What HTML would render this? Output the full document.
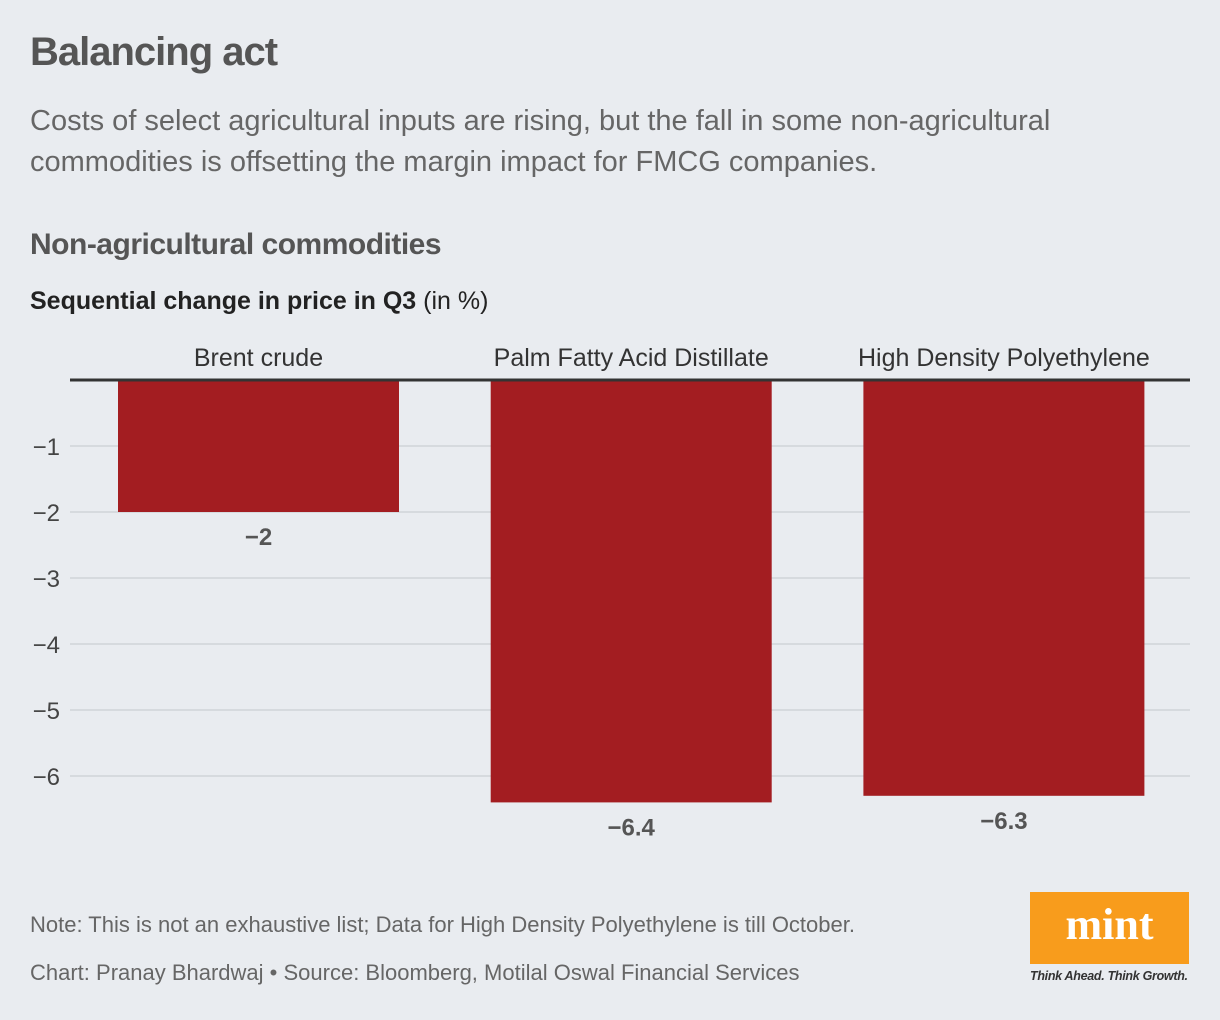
<!DOCTYPE html>
<html><head><meta charset="utf-8"><style>
body{margin:0;width:1220px;height:1020px;background:#e9ecf0;font-family:"Liberation Sans",sans-serif;position:relative;overflow:hidden}
.t{position:absolute;white-space:nowrap}
</style></head><body>
<div class="t" style="left:30px;top:30px;font-size:40px;font-weight:bold;color:#555;letter-spacing:-1px">Balancing act</div>
<div class="t" style="left:30px;top:101px;font-size:29px;color:#666;line-height:41px;white-space:normal;width:1150px">Costs of select agricultural inputs are rising, but the fall in some non-agricultural commodities is offsetting the margin impact for FMCG companies.</div>
<div class="t" style="left:30px;top:228px;font-size:30px;font-weight:bold;color:#555;letter-spacing:-0.5px">Non-agricultural commodities</div>
<div class="t" style="left:30px;top:287px;font-size:25px;color:#222"><b>Sequential change in price in Q3</b> (in %)</div>
<svg id="chart" width="1220" height="880" style="position:absolute;left:0;top:0"></svg>
<div class="t" style="left:30px;top:912px;font-size:22px;color:#666">Note: This is not an exhaustive list; Data for High Density Polyethylene is till October.</div>
<div class="t" style="left:30px;top:960px;font-size:22px;color:#666">Chart: Pranay Bhardwaj • Source: Bloomberg, Motilal Oswal Financial Services</div>
<div style="position:absolute;left:1030px;top:892px;width:159px;height:72px;background:#f89c1c;color:#fff;font-family:'Liberation Serif',serif;font-weight:bold;font-size:44px;text-align:center;line-height:66px">mint</div>
<div class="t" style="left:1030px;top:969px;font-size:12.5px;font-style:italic;font-weight:bold;color:#333;letter-spacing:-0.3px">Think Ahead. Think Growth.</div>
<script>
const categories=["Brent crude","Palm Fatty Acid Distillate","High Density Polyethylene"];
const values=[-2,-6.4,-6.3];
const valueLabels=["−2","−6.4","−6.3"];
const ticks=[-1,-2,-3,-4,-5,-6];
const tickLabels=["−1","−2","−3","−4","−5","−6"];
const svg=document.getElementById('chart');const NS='http://www.w3.org/2000/svg';
const y=v=>380-66*v;
const bandX=i=>70+i*372.7;
function mk(t,a){const e=document.createElementNS(NS,t);for(const k in a)e.setAttribute(k,a[k]);svg.appendChild(e);return e;}
ticks.forEach((t,i)=>{
 const l=mk('line',{x1:70,x2:1190,y1:y(t),y2:y(t),stroke:'#d0d3d8','stroke-width':1.5});
 
 
 const tx=mk('text',{x:60,y:y(t)+9,'text-anchor':'end','font-size':24,fill:'#444','font-family':'Liberation Sans'});
 tx.textContent=tickLabels[i];
 
 
});
categories.forEach((c,i)=>{
 const x0=bandX(i)+48,w=281;
 const r=mk('rect',{x:x0,y:y(0),width:w,height:y(values[i])-y(0),fill:'#a31d21'});
 
 
 const cl=mk('text',{x:x0+w/2,y:366,'text-anchor':'middle','font-size':25,fill:'#333','font-family':'Liberation Sans'});
 cl.textContent=c;
 
 
 const vl=mk('text',{x:x0+w/2,y:y(values[i])+33,'text-anchor':'middle','font-size':24,'font-weight':'bold',fill:'#555','font-family':'Liberation Sans'});
 vl.textContent=valueLabels[i];
 
 
});
const z=mk('line',{x1:70,x2:1190,y1:380,y2:380,stroke:'#333','stroke-width':3});


</script>
</body></html>
